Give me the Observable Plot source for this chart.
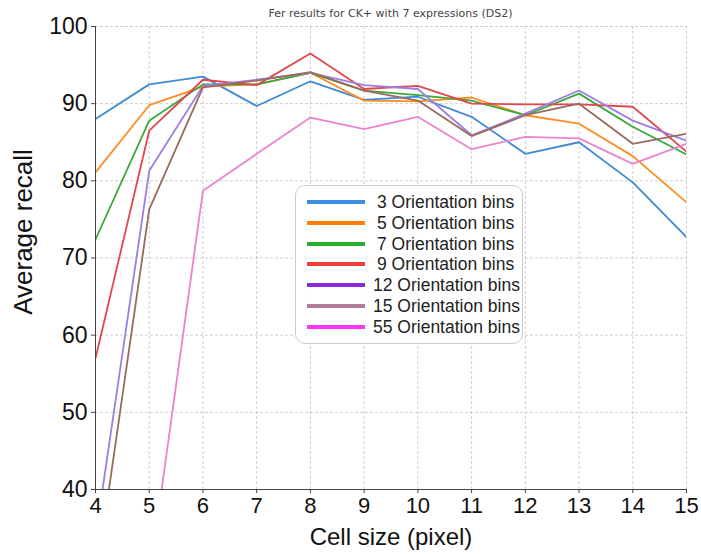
<!DOCTYPE html>
<html><head><meta charset="utf-8">
<script src="https://cdn.jsdelivr.net/npm/d3@7"></script>
<script src="https://cdn.jsdelivr.net/npm/@observablehq/plot@0.6"></script>
<style>
body{margin:0;background:#fff;}
#wrap{position:relative;width:701px;height:555px;overflow:hidden;font-family:"Liberation Sans",Arial,sans-serif;}
#title{position:absolute;left:0;width:781px;top:7px;text-align:center;font-family:"DejaVu Sans",sans-serif;font-size:11px;color:#444;}
#legend{position:absolute;left:295px;top:185px;width:228px;height:159px;border:1px solid #ccc;border-radius:10px;background:rgba(255,255,255,0.9);box-sizing:border-box;}
.row{position:absolute;left:0;height:20px;width:226px;}
.sw{position:absolute;left:11px;width:58px;height:4px;top:8px;}
.lab{position:absolute;top:0;font-size:17.5px;line-height:20px;color:#222;white-space:nowrap;}
svg text{font-family:"Liberation Sans",Arial,sans-serif;}
</style></head>
<body><div id="wrap"><div id="title">Fer results for CK+ with 7 expressions (DS2)</div></div>
<script>
const cellSizes = [4,5,6,7,8,9,10,11,12,13,14,15];
const seriesNames = ["3 Orientation bins","5 Orientation bins","7 Orientation bins","9 Orientation bins","12 Orientation bins","15 Orientation bins","55 Orientation bins"];
const bins3  = [88.0,92.5,93.5,89.7,92.9,90.5,90.9,88.3,83.5,85.0,79.8,72.7];
const bins5  = [81.1,89.8,92.2,92.5,94.0,90.4,90.3,90.8,88.5,87.4,83.2,77.2];
const bins7  = [72.4,87.8,92.5,92.5,94.0,91.7,91.1,90.4,88.5,91.3,87.0,83.4];
const bins9  = [57.0,86.5,93.1,92.4,96.5,91.9,92.3,90.0,89.9,89.9,89.6,83.8];
const bins12 = [33.8,81.3,92.3,93.1,94.0,92.4,91.9,85.9,88.7,91.7,87.8,85.2];
const bins15 = [27.9,76.3,92.1,93.0,94.1,91.7,90.4,85.8,88.5,90.0,84.8,86.1];
const bins55 = [20.0,28.4,78.7,83.5,88.2,86.7,88.3,84.1,85.7,85.5,82.2,84.8];
const yTicks = [40,50,60,70,80,90,100];
const lineColors = ["#3f8bd3","#ff8c24","#3aa83a","#e2474b","#9d7fe0","#9a6a5e","#ea84cc"];
const legendColors = ["#3a8ee6","#ff8000","#2cab2c","#f23c3c","#8a2be2","#b07a9a","#ff33ff"];

const allSeries = [bins3,bins5,bins7,bins9,bins12,bins15,bins55];
const data = [];
allSeries.forEach((vals,i)=>vals.forEach((v,j)=>data.push({x:cellSizes[j],y:v,s:seriesNames[i]})));

const chart = Plot.plot({
  width:701, height:555,
  marginLeft:95, marginRight:15, marginTop:26, marginBottom:66,
  style:{fontFamily:"Liberation Sans, Arial, sans-serif", background:"#fff"},
  x:{domain:[4,15], label:null},
  y:{domain:[40,100], label:null},
  color:{domain:seriesNames, range:lineColors},
  marks:[
    Plot.gridX(cellSizes,{stroke:"#999",strokeOpacity:0.6,strokeDasharray:"3,2",strokeWidth:0.8}),
    Plot.gridY(yTicks,{stroke:"#999",strokeOpacity:0.6,strokeDasharray:"3,2",strokeWidth:0.8}),
    Plot.line(data,{x:"x",y:"y",z:"s",stroke:"s",strokeWidth:1.8,clip:true}),
    Plot.ruleX([4],{stroke:"#444",strokeWidth:1}),
    Plot.ruleY([40],{stroke:"#444",strokeWidth:1}),
    Plot.axisX({ticks:cellSizes,tickFormat:d=>String(d),fontSize:22,tickSize:4,tickPadding:4,stroke:"#444",color:"#111",label:null}),
    Plot.axisY({ticks:yTicks,fontSize:23,tickSize:4,tickPadding:4,stroke:"#444",color:"#111",label:null}),
    Plot.text(["Cell size (pixel)"],{frameAnchor:"bottom",lineAnchor:"middle",dy:48,fontSize:24,fill:"#111"}),
    Plot.text(["Average recall"],{frameAnchor:"left",textAnchor:"middle",dx:-72,dy:-26,rotate:-90,fontSize:26,fill:"#111"})
  ]
});
const wrap = document.getElementById("wrap");
wrap.insertBefore(chart, wrap.firstChild);

const leg = document.createElement("div");
leg.id = "legend";
seriesNames.forEach((n,i)=>{
  const r = document.createElement("div");
  r.className="row";
  r.style.top = (6 + i*20.8) + "px";
  const sw = document.createElement("div"); sw.className="sw"; sw.style.background = legendColors[i];
  const lb = document.createElement("div"); lb.className="lab"; lb.textContent = n;
  lb.style.left = (n.indexOf(" ") > 1 ? 77 : 81) + "px";
  r.appendChild(sw); r.appendChild(lb); leg.appendChild(r);
});
wrap.appendChild(leg);
</script>
</body></html>
